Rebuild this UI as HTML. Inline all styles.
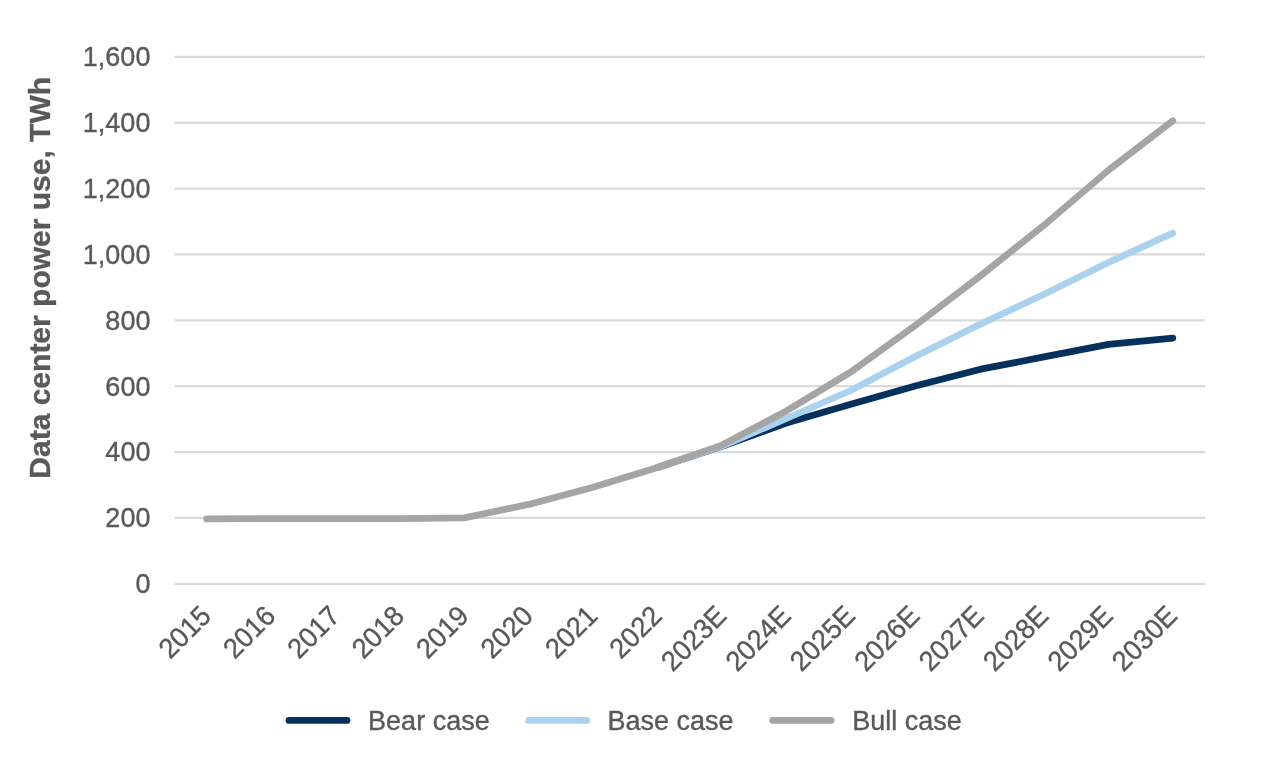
<!DOCTYPE html>
<html lang="en">
<head>
<meta charset="utf-8">
<title>Data center power use</title>
<style>
html,body{margin:0;padding:0;background:#fff;}
body{width:1280px;height:778px;overflow:hidden;font-family:"Liberation Sans",Arial,sans-serif;}
svg{display:block;}
text{font-family:"Liberation Sans",Arial,sans-serif;fill:#595959;stroke:#595959;stroke-width:0.35px;}
.lbl{font-size:27.0px;}
.ttl{font-size:30px;font-weight:bold;}
.grid line{stroke:#d9d9d9;stroke-width:2.25;}
.ser path{fill:none;stroke-width:6.75;stroke-linecap:round;stroke-linejoin:round;}
.leg line{stroke-width:6.75;stroke-linecap:round;}
</style>
</head>
<body>
<svg width="1280" height="778" viewBox="0 0 1280 778">
<rect x="0" y="0" width="1280" height="778" fill="#ffffff"/>

<g class="grid">
<line x1="174.5" y1="583.75" x2="1205.0" y2="583.75"/>
<line x1="174.5" y1="517.89" x2="1205.0" y2="517.89"/>
<line x1="174.5" y1="452.04" x2="1205.0" y2="452.04"/>
<line x1="174.5" y1="386.18" x2="1205.0" y2="386.18"/>
<line x1="174.5" y1="320.32" x2="1205.0" y2="320.32"/>
<line x1="174.5" y1="254.47" x2="1205.0" y2="254.47"/>
<line x1="174.5" y1="188.61" x2="1205.0" y2="188.61"/>
<line x1="174.5" y1="122.76" x2="1205.0" y2="122.76"/>
<line x1="174.5" y1="56.90" x2="1205.0" y2="56.90"/>
</g>
<g class="lbl" text-anchor="end">
<text transform="translate(150.4 593.15) scale(1 1.04)">0</text>
<text transform="translate(150.4 527.29) scale(1 1.04)">200</text>
<text transform="translate(150.4 461.44) scale(1 1.04)">400</text>
<text transform="translate(150.4 395.58) scale(1 1.04)">600</text>
<text transform="translate(150.4 329.72) scale(1 1.04)">800</text>
<text transform="translate(150.4 263.87) scale(1 1.04)">1,000</text>
<text transform="translate(150.4 198.01) scale(1 1.04)">1,200</text>
<text transform="translate(150.4 132.16) scale(1 1.04)">1,400</text>
<text transform="translate(150.4 66.30) scale(1 1.04)">1,600</text>
</g>
<g class="lbl" text-anchor="end">
<text transform="translate(212.7 617.6) rotate(-45) scale(1 1.04)">2015</text>
<text transform="translate(277.1 617.6) rotate(-45) scale(1 1.04)">2016</text>
<text transform="translate(341.5 617.6) rotate(-45) scale(1 1.04)">2017</text>
<text transform="translate(405.9 617.6) rotate(-45) scale(1 1.04)">2018</text>
<text transform="translate(470.3 617.6) rotate(-45) scale(1 1.04)">2019</text>
<text transform="translate(534.7 617.6) rotate(-45) scale(1 1.04)">2020</text>
<text transform="translate(599.1 617.6) rotate(-45) scale(1 1.04)">2021</text>
<text transform="translate(663.5 617.6) rotate(-45) scale(1 1.04)">2022</text>
<text transform="translate(728.0 617.6) rotate(-45) scale(1 1.04)">2023E</text>
<text transform="translate(792.4 617.6) rotate(-45) scale(1 1.04)">2024E</text>
<text transform="translate(856.8 617.6) rotate(-45) scale(1 1.04)">2025E</text>
<text transform="translate(921.2 617.6) rotate(-45) scale(1 1.04)">2026E</text>
<text transform="translate(985.6 617.6) rotate(-45) scale(1 1.04)">2027E</text>
<text transform="translate(1050.0 617.6) rotate(-45) scale(1 1.04)">2028E</text>
<text transform="translate(1114.4 617.6) rotate(-45) scale(1 1.04)">2029E</text>
<text transform="translate(1178.8 617.6) rotate(-45) scale(1 1.04)">2030E</text>
</g>
<text class="ttl" text-anchor="middle" transform="translate(49.5 277.8) rotate(-90)" xml:space="preserve">Data center power use, TWh</text>
<g class="ser">
<path d="M657.5 467.5 L722.0 446.4 L786.4 423.1 L850.8 404.3 L915.2 385.9 L979.6 369.4 L1044.0 356.9 L1108.4 344.4 L1172.8 338.1" stroke="#06315d"/>
<path d="M657.5 467.5 L722.0 446.1 L786.4 418.5 L850.8 390.5 L915.2 356.5 L979.6 324.6 L1044.0 294.3 L1108.4 262.4 L1172.8 233.1" stroke="#aad1ee"/>
<path d="M206.7 518.9 L271.1 518.6 L335.5 518.6 L399.9 518.6 L464.3 517.9 L528.7 504.4 L593.1 487.3 L657.5 467.5 L722.0 445.1 L786.4 410.9 L850.8 372.0 L915.2 325.6 L979.6 276.5 L1044.0 225.2 L1108.4 170.2 L1172.8 120.8" stroke="#a5a5a5"/>
</g>
<g class="leg">
<line x1="289.0" y1="720.45" x2="347.0" y2="720.45" stroke="#06315d"/>
<text class="lbl" x="368.1" y="730">Bear case</text>
<line x1="528.7" y1="720.45" x2="586.5" y2="720.45" stroke="#aad1ee"/>
<text class="lbl" x="607.4" y="730">Base case</text>
<line x1="772.8" y1="720.45" x2="831.1" y2="720.45" stroke="#a5a5a5"/>
<text class="lbl" x="852.3" y="730">Bull case</text>
</g>
</svg>
</body>
</html>
